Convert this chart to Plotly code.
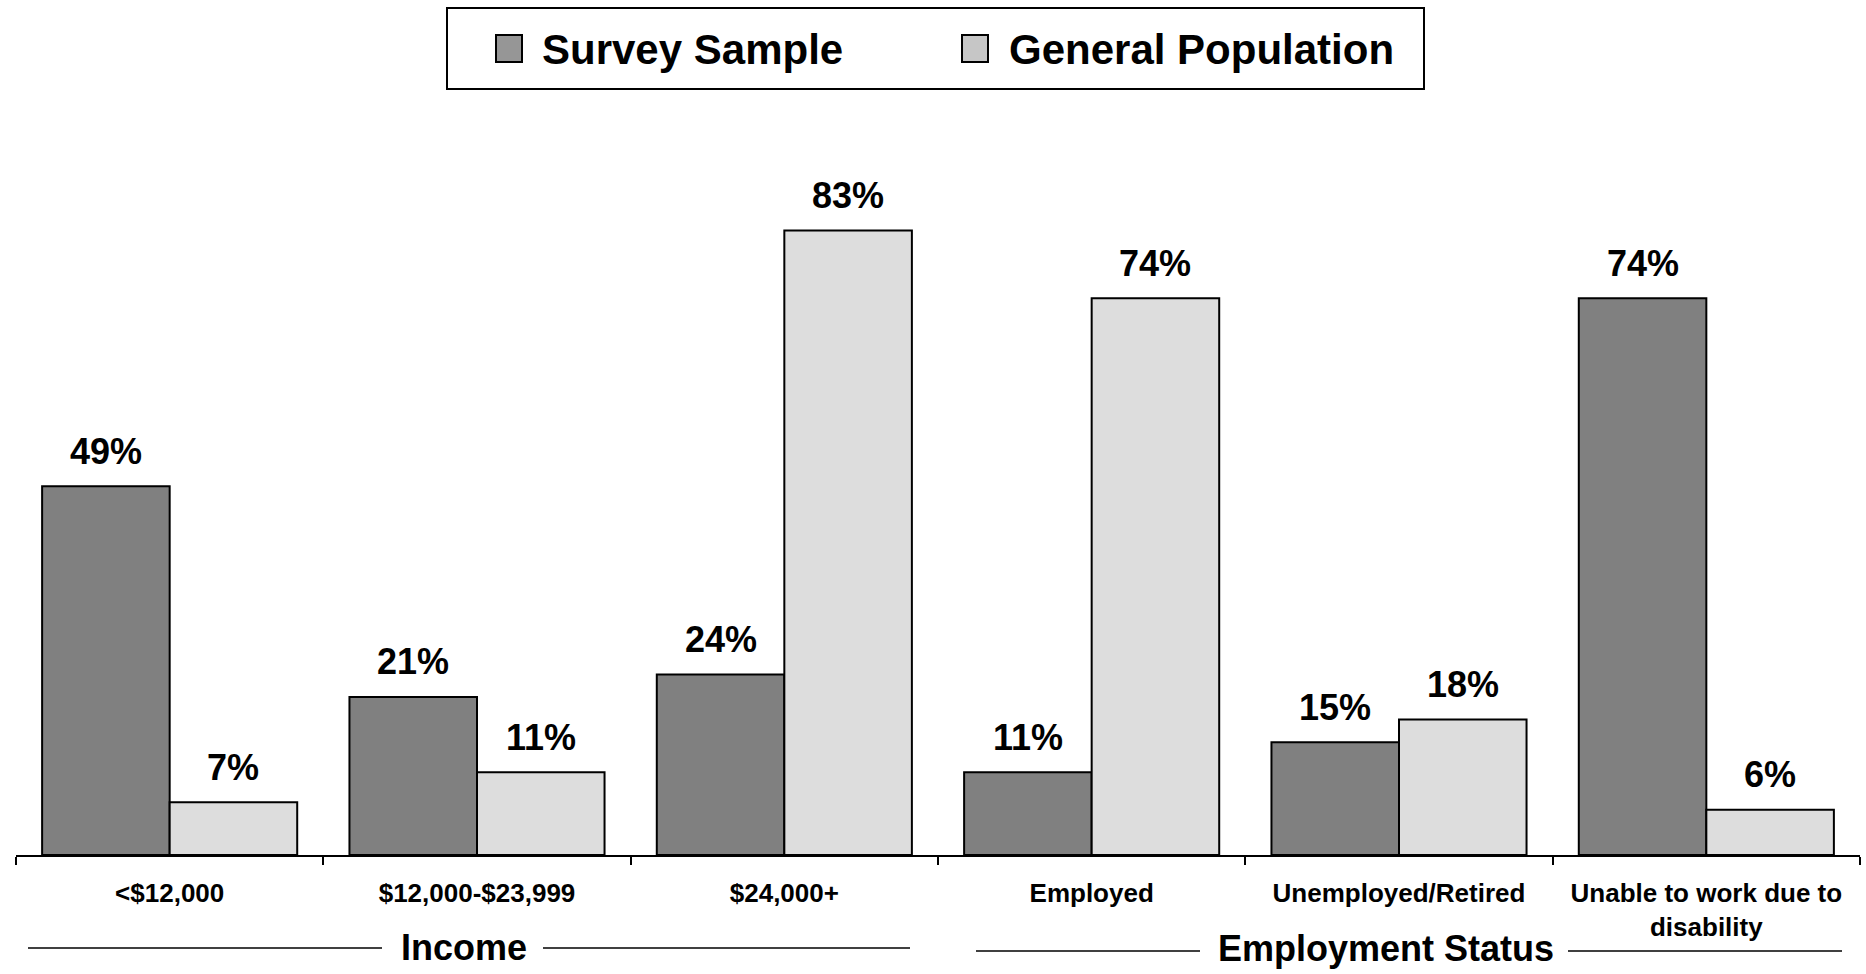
import plotly.graph_objects as go

# ---------------- data ----------------
categories = ["<$12,000", "$12,000-$23,999", "$24,000+", "Employed",
              "Unemployed/Retired", "Unable to work due to<br>disability"]
survey_sample = [49, 21, 24, 11, 15, 74]
general_population = [7, 11, 83, 74, 18, 6]
series_names = ["Survey Sample", "General Population"]
group_labels = ["Income", "Employment Status"]

# ---------------- layout constants ----------------
W, H = 1866, 974
ML, MR, MT, MB = 16, 6, 100, 119
PX_PER_PCT = 7.525
plot_w = W - ML - MR
plot_h = H - MT - MB
ymax = plot_h / PX_PER_PCT
BARGAP = 0.17
HALF = (1 - BARGAP) / 4  # centre offset of each bar within its category

FONT = "Arial, 'Liberation Sans', Helvetica, sans-serif"
DARK = "#808080"
LIGHT = "#dddddd"
SW_DARK = "#969696"
SW_LIGHT = "#c6c6c6"


def px_x(px):
    return (px - ML) / plot_w


def px_y(py):
    return (H - MB - py) / plot_h


fig = go.Figure()
for name, vals, col in [(series_names[0], survey_sample, DARK),
                        (series_names[1], general_population, LIGHT)]:
    fig.add_trace(go.Bar(
        x=categories, y=vals, name=name, showlegend=False,
        marker=dict(color=col, line=dict(color="black", width=2)),
        hoverinfo="x+y+name",
    ))

annotations = []
shapes = []

# value labels above bars (placed on the data axes)
for i in range(len(categories)):
    for vals, off in [(survey_sample, -HALF), (general_population, HALF)]:
        annotations.append(dict(
            x=i + off, y=vals[i], xref="x", yref="y",
            text=f"{vals[i]}%", showarrow=False,
            xanchor="center", yanchor="middle", yshift=35,
            font=dict(family=FONT, size=36, color="black", weight="bold"),
        ))

# group labels with side rules
group_specs = [
    (group_labels[0], 464, 947, [(28, 382, 948), (543, 910, 948)]),
    (group_labels[1], 1386, 948, [(976, 1200, 951), (1568, 1842, 951)]),
]
for text, cx, cy, rules in group_specs:
    annotations.append(dict(
        x=px_x(cx), y=px_y(cy), xref="paper", yref="paper",
        text=text, showarrow=False, xanchor="center", yanchor="middle",
        font=dict(family=FONT, size=36, color="black", weight="bold"),
    ))
    for x0, x1, yy in rules:
        shapes.append(dict(type="line", xref="paper", yref="paper",
                           x0=px_x(x0), x1=px_x(x1), y0=px_y(yy), y1=px_y(yy),
                           line=dict(color="black", width=1.5)))

# legend (drawn to match the reference's large swatches)
shapes.append(dict(type="rect", xref="paper", yref="paper",
                   x0=px_x(447), x1=px_x(1424), y0=px_y(89), y1=px_y(8),
                   line=dict(color="black", width=2), fillcolor="white"))
for (sx0, sx1, tx, name, col) in [(496, 522, 540, series_names[0], SW_DARK),
                                   (962, 988, 1007, series_names[1], SW_LIGHT)]:
    shapes.append(dict(type="rect", xref="paper", yref="paper",
                       x0=px_x(sx0), x1=px_x(sx1), y0=px_y(62), y1=px_y(35),
                       line=dict(color="black", width=2), fillcolor=col))
    annotations.append(dict(
        x=px_x(tx), y=px_y(49), xref="paper", yref="paper",
        text=name, showarrow=False, xanchor="left", yanchor="middle",
        font=dict(family=FONT, size=42, color="black", weight="bold"),
    ))

fig.update_layout(
    width=W, height=H,
    margin=dict(l=ML, r=MR, t=MT, b=MB, pad=0),
    barmode="group", bargap=BARGAP, bargroupgap=0,
    plot_bgcolor="white", paper_bgcolor="white",
    showlegend=False,
    font=dict(family=FONT, color="black"),
    annotations=annotations, shapes=shapes,
    xaxis=dict(
        type="category", showline=True, linecolor="black", linewidth=1.5,
        ticks="outside", tickson="boundaries", ticklen=8, tickwidth=1.5,
        tickcolor="black", showgrid=False, zeroline=False,
        tickfont=dict(family=FONT, size=26, color="black", weight="bold"),
        ticklabelstandoff=14,
    ),
    yaxis=dict(visible=False, range=[0, ymax], showgrid=False, zeroline=False),
)

fig.write_html("out.html", config={"displayModeBar": False},
               post_script="document.body.style.margin='0';")
